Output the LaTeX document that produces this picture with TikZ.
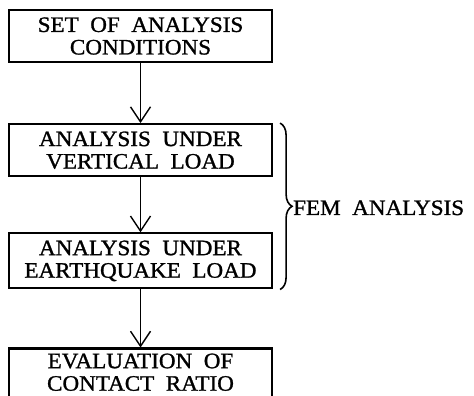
\documentclass[tikz,border=0pt]{standalone}
\usepackage{fontspec}
\setmainfont{Liberation Serif}[WordSpace=2,FakeStretch=1.05,FakeBold=1.2]
\usetikzlibrary{positioning,arrows.meta,decorations.pathreplacing}
\tikzstyle{block} = [rectangle, draw, line width=2.2pt, minimum width=263pt,
    minimum height=52pt, align=center, inner sep=0pt,
    font=\fontsize{22}{22.5}\selectfont]
\tikzstyle{line} = [draw, line width=1.4pt, -{Straight Barb[length=15pt,width=20pt]}]
\tikzstyle{brace} = [draw, line width=1.6pt, decorate,
    decoration={brace, amplitude=12pt}]
\tikzstyle{tag} = [inner sep=0pt, font=\fontsize{22}{22.5}\selectfont]

\begin{document}
\begin{tikzpicture}[x=1pt, y=1pt, node distance=58pt]
    \useasboundingbox (0,0) rectangle (474,396);
    \clip (0,0) rectangle (474,396);
    % Place nodes
    \node [block] (setup) at (140.5,360) {SET OF ANALYSIS\\CONDITIONS};
    \node [block, below=60pt of setup] (vert) {ANALYSIS UNDER\\VERTICAL LOAD};
    \node [block, below=55pt of vert, minimum height=55pt] (quake) {ANALYSIS UNDER\\EARTHQUAKE LOAD};
    \node [block, below=of quake, inner ysep=5pt, text depth=14pt] (eval) {EVALUATION OF\\CONTACT RATIO};
    % Brace round the two FEM steps
    \coordinate (btop) at ([xshift=7pt]vert.north east);
    \coordinate (bbot) at (btop |- quake.south);
    \draw [brace] (btop) -- (bbot);
    \node [tag, anchor=base west] (fem) at (293,181) {FEM ANALYSIS};
    \path [line] (setup) -- (vert);
    \path [line] (vert) -- (quake);
    \path [line] (quake) -- (eval);
\end{tikzpicture}
\end{document}
